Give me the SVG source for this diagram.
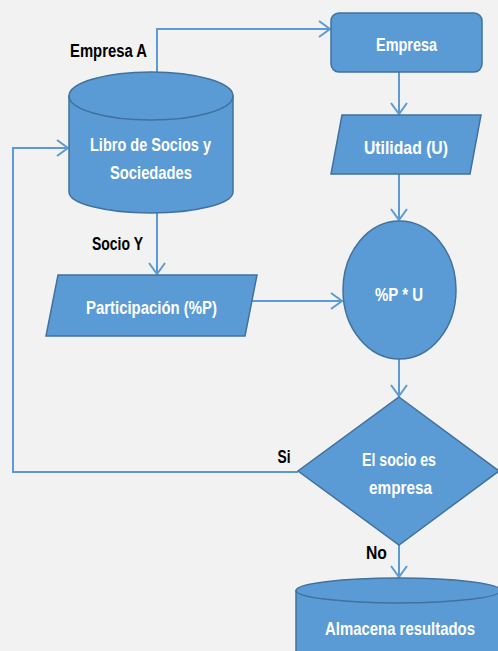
<svg xmlns="http://www.w3.org/2000/svg" width="498" height="651" viewBox="0 0 498 651">
<style>
.shape{fill:#5b9bd5;stroke:#41719c;stroke-width:1.5}
.conn{fill:none;stroke:#5b9bd5;stroke-width:2}
.t{font-family:"Liberation Sans",Arial,sans-serif;font-weight:bold;font-size:19px;fill:#ffffff;text-anchor:middle}
.lbl{font-family:"Liberation Sans",Arial,sans-serif;font-weight:bold;font-size:18px;fill:#000000;text-anchor:middle}
</style>
<defs>
<marker id="arr" markerUnits="userSpaceOnUse" markerWidth="16" markerHeight="20" refX="12" refY="9" orient="auto">
<path d="M1,1 L12,9 L1,17" fill="none" stroke="#5b9bd5" stroke-width="2"/>
</marker>
</defs>
<rect width="498" height="651" fill="#f2f2f2"/>
<g id="connectors">
<path class="conn" d="M157,72 V29 H330" marker-end="url(#arr)"/>
<path class="conn" d="M399,72 V114" marker-end="url(#arr)"/>
<path class="conn" d="M399,174 V220" marker-end="url(#arr)"/>
<path class="conn" d="M157,213 V274" marker-end="url(#arr)"/>
<path class="conn" d="M252,301 H342" marker-end="url(#arr)"/>
<path class="conn" d="M399,359 V396" marker-end="url(#arr)"/>
<path class="conn" d="M298,472 H13 V148 H68" marker-end="url(#arr)"/>
<path class="conn" d="M399,545 V577" marker-end="url(#arr)"/>
</g>
<g id="libro">
<path class="shape" d="M69,96 V192 A82,21 0 0 0 233,192 V96 Z"/>
<ellipse class="shape" cx="151" cy="96" rx="82" ry="24"/>
<text class="t" x="150.5" y="151" textLength="121" lengthAdjust="spacingAndGlyphs">Libro de Socios y</text>
<text class="t" x="151" y="179" textLength="82" lengthAdjust="spacingAndGlyphs">Sociedades</text>
</g>
<g id="empresaA-label"><text class="lbl" x="108.5" y="57" textLength="77" lengthAdjust="spacingAndGlyphs">Empresa A</text></g>
<g id="empresa">
<rect class="shape" x="331" y="13" width="151" height="59" rx="8"/>
<text class="t" x="406.5" y="50.5" textLength="61" lengthAdjust="spacingAndGlyphs">Empresa</text>
</g>
<g id="utilidad">
<polygon class="shape" points="342,115 481,115 470,174 331,174"/>
<text class="t" x="406" y="154" textLength="84" lengthAdjust="spacingAndGlyphs">Utilidad (U)</text>
</g>
<g id="socioY-label"><text class="lbl" x="117.5" y="250" textLength="51" lengthAdjust="spacingAndGlyphs">Socio Y</text></g>
<g id="participacion">
<polygon class="shape" points="58,275 257,275 245,336 46,336"/>
<text class="t" x="151.5" y="314" textLength="131" lengthAdjust="spacingAndGlyphs">Participación (%P)</text>
</g>
<g id="producto">
<ellipse class="shape" cx="399.5" cy="290" rx="56.5" ry="69"/>
<text class="t" x="399" y="301" textLength="48" lengthAdjust="spacingAndGlyphs">%P * U</text>
</g>
<g id="decision">
<polygon class="shape" points="399,397 499,471 399,545 298,471"/>
<text class="t" x="399" y="466" textLength="74" lengthAdjust="spacingAndGlyphs">El socio es</text>
<text class="t" x="400.5" y="494" textLength="63" lengthAdjust="spacingAndGlyphs">empresa</text>
</g>
<g id="si-label"><text class="lbl" x="284" y="463" textLength="13" lengthAdjust="spacingAndGlyphs">Si</text></g>
<g id="no-label"><text class="lbl" x="376.5" y="559" textLength="21" lengthAdjust="spacingAndGlyphs">No</text></g>
<g id="almacena">
<rect x="296" y="590" width="205" height="62" fill="#5b9bd5"/>
<path d="M296,590 V652 M501,590 V652" fill="none" stroke="#41719c" stroke-width="1.5"/>
<ellipse class="shape" cx="398.5" cy="590.5" rx="102.5" ry="12.5"/>
<text class="t" x="400" y="635" textLength="150" lengthAdjust="spacingAndGlyphs">Almacena resultados</text>
</g>
</svg>
